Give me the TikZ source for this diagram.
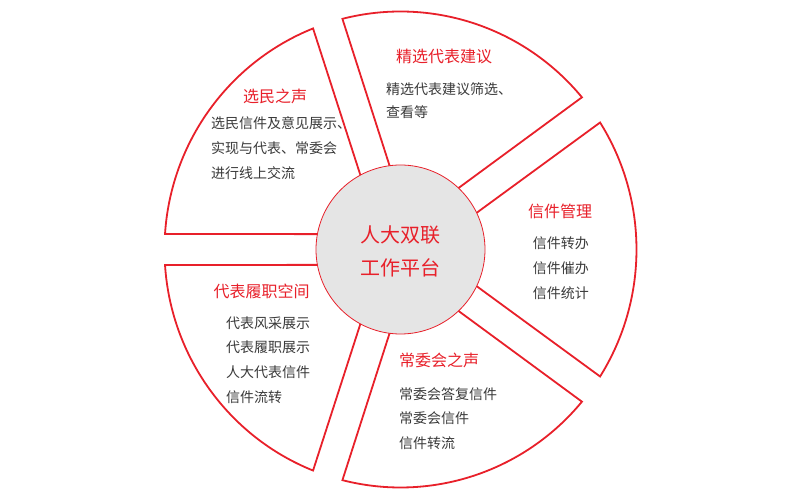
\documentclass[tikz,border=0pt]{standalone}
\usepackage{fontspec}
\newfontfamily\cjk{Noto Sans CJK SC}
\usetikzlibrary{positioning}
\definecolor{ringred}{HTML}{E8202A}
\definecolor{hubgray}{HTML}{E5E5E5}
\definecolor{bodygray}{HTML}{3A3A3A}
\tikzset{
  sector/.style={draw=ringred,line width=1.8pt,fill=white,line join=miter},
  hub/.style={circle,draw=ringred,line width=0.8pt,fill=hubgray,minimum size=169pt,inner sep=0pt},
  hubtext/.style={text=ringred,font=\cjk\fontsize{20}{24}\selectfont,inner sep=0pt},
  title/.style={text=ringred,font=\cjk\fontsize{16}{18}\selectfont,inner sep=0pt},
  body/.style={text=bodygray,font=\cjk\fontsize{14}{16}\selectfont,inner sep=0pt,anchor=west},
}
\begin{document}
\begin{tikzpicture}[x=1pt,y=1pt]
  \useasboundingbox (0,0) rectangle (800,500);
  % five sectors, gaps along 180,108,36,-36,-108 degrees
  \begin{scope}[shift={(400.5,250.5)}]
    \foreach \a in {180,108,36,-36,-108}{
      \pgfmathsetmacro{\b}{\a+72}
      \pgfmathsetmacro{\m}{\a+36}
      \draw[sector] (\m:26) -- (\a+3.75:236 and 238)
        arc[start angle=\a+3.75,end angle=\b-3.75,x radius=236,y radius=238] -- cycle;
    }
  \end{scope}
  \node[hub] (hub) at (400.5,250.5) {};
  \node[hubtext] (hubtop) at (400,265) {人大双联};
  \node[hubtext] (hubbot) at (400,231.7) {工作平台};

  % upper left
  \node[title] (xmzs) at (275,404) {选民之声};
  \foreach \txt [count=\i] in {选民信件及意见展示、,实现与代表、常委会,进行线上交流}
    \node[body] (xmzs-\i) at (211,{401.7-25*\i}) {\txt};

  % top
  \node[title] (jxjy) at (444,443.3) {精选代表建议};
  \foreach \txt [count=\i] in {精选代表建议筛选、,查看等}
    \node[body] (jxjy-\i) at (386,{433.7-22.7*\i}) {\txt};

  % right
  \node[title] (xjgl) at (560,288.3) {信件管理};
  \foreach \txt [count=\i] in {信件转办,信件催办,信件统计}
    \node[body] (xjgl-\i) at (532.7,{282-25*\i}) {\txt};

  % bottom
  \node[title] (cwhzs) at (439,140) {常委会之声};
  \foreach \txt [count=\i] in {常委会答复信件,常委会信件,信件转流}
    \node[body] (cwhzs-\i) at (399,{130.7-24.5*\i}) {\txt};

  % lower left
  \node[title] (lzkj) at (261.5,208.3) {代表履职空间};
  \foreach \txt [count=\i] in {代表风采展示,代表履职展示,人大代表信件,信件流转}
    \node[body] (lzkj-\i) at (226,{201.6-24.6*\i}) {\txt};
\end{tikzpicture}
\end{document}
